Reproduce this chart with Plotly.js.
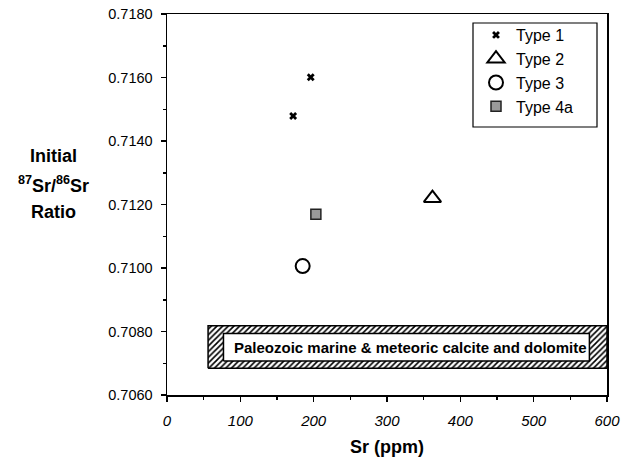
<!DOCTYPE html>
<html>
<head>
<meta charset="utf-8">
<script src="https://cdn.plot.ly/plotly-3.0.1.min.js"></script>
<style>html,body{margin:0;padding:0;background:#fff;}#chart{width:622px;height:457px;}</style>
</head>
<body>
<div id="chart"></div>
<script>
// Data
const type1Sr = [196, 172];
const type1Ratio = [0.71601, 0.71479];
const type2Sr = [362];
const type2Ratio = [0.71220];
const type3Sr = [185];
const type3Ratio = [0.71006];
const type4aSr = [203];
const type4aRatio = [0.71169];

// Field of Paleozoic marine & meteoric calcite and dolomite
const fieldSr = [56, 600];
const fieldRatio = [0.70684, 0.70818];
const labelSr = [77, 576];
const labelRatio = [0.70707, 0.70794];
const fieldLabel = 'Paleozoic marine &amp; meteoric calcite and dolomite';

const xTicks = [0, 100, 200, 300, 400, 500, 600];
const yTicks = [0.706, 0.708, 0.710, 0.712, 0.714, 0.716, 0.718];
const yTitleLines = ['Initial', '<sup>87</sup>Sr/<sup>86</sup>Sr', 'Ratio'];

const FONT = 'Liberation Sans, Arial, Helvetica, sans-serif';

function rectX(a){ return [a[0], a[1], a[1], a[0], a[0]]; }
function rectY(a){ return [a[0], a[0], a[1], a[1], a[0]]; }

const traces = [
  {
    x: rectX(fieldSr), y: rectY(fieldRatio), mode: 'lines', fill: 'toself',
    line: {color: 'black', width: 1.5},
    fillpattern: {shape: '/', fgcolor: 'black', bgcolor: 'white', size: 4, solidity: 0.4},
    showlegend: false, hoverinfo: 'skip'
  },
  {
    x: rectX(labelSr), y: rectY(labelRatio), mode: 'lines', fill: 'toself',
    fillcolor: 'white', line: {color: 'black', width: 1.5},
    showlegend: false, hoverinfo: 'skip'
  },
  {
    x: type1Sr, y: type1Ratio, mode: 'markers', name: 'Type 1', legendgroup: 'a',
    marker: {symbol: 'x', size: 7, color: 'black', line: {width: 0}}
  },
  {
    x: type2Sr, y: type2Ratio, mode: 'markers', name: 'Type 2', legendgroup: 'b',
    marker: {symbol: 'triangle-up-open', size: 15, color: 'black', line: {width: 2, color: 'black'}}
  },
  {
    x: type3Sr, y: type3Ratio, mode: 'markers', name: 'Type 3', legendgroup: 'c',
    marker: {symbol: 'circle-open', size: 14, color: 'black', line: {width: 2, color: 'black'}}
  },
  {
    x: type4aSr, y: type4aRatio, mode: 'markers', name: 'Type 4a', legendgroup: 'd',
    marker: {symbol: 'square', size: 10, color: '#9a9a9a', line: {width: 1.5, color: '#222'}}
  }
];

const pw = 622 - 167 - 15, ph = 457 - 14 - 62;
function px2paperX(px){ return (px - 167) / pw; }
function px2paperY(py){ return 1 - (py - 14) / ph; }

const annotations = [
  {
    x: (labelSr[0] + labelSr[1]) / 2 + 6, y: (labelRatio[0] + labelRatio[1]) / 2,
    xref: 'x', yref: 'y', text: '<b>' + fieldLabel + '</b>', showarrow: false,
    font: {size: 15, family: FONT, color: 'black'}
  }
];
const yTitleY = [156, 184, 212];
yTitleLines.forEach(function(t, i){
  annotations.push({
    x: px2paperX(53), y: px2paperY(yTitleY[i]), xref: 'paper', yref: 'paper',
    xanchor: 'center', yanchor: 'middle', showarrow: false,
    text: '<b>' + t + '</b>', font: {size: 18, family: FONT, color: 'black'}
  });
});

// legend frame (pixel box of the reference legend)
const legendBox = {x0: 473, x1: 597, y0: 23, y1: 127};

const layout = {
  width: 622, height: 457,
  margin: {l: 167, r: 15, t: 14, b: 62},
  paper_bgcolor: 'white', plot_bgcolor: 'white',
  font: {family: FONT, color: 'black'},
  showlegend: true,
  legend: {
    x: px2paperX(476), y: px2paperY(18), xanchor: 'left', yanchor: 'top',
    borderwidth: 0, bgcolor: 'rgba(0,0,0,0)',
    font: {size: 16, family: FONT, color: 'black'},
    traceorder: 'grouped', tracegroupgap: 0
  },
  shapes: [
    {
      type: 'rect', xref: 'paper', yref: 'paper', layer: 'below',
      x0: px2paperX(legendBox.x0), x1: px2paperX(legendBox.x1),
      y0: px2paperY(legendBox.y1), y1: px2paperY(legendBox.y0),
      line: {color: 'black', width: 1.2}, fillcolor: 'white'
    }
  ],
  xaxis: {
    range: [0, 600], tickvals: xTicks, ticktext: xTicks.map(String),
    showgrid: false, zeroline: false,
    showline: true, linecolor: 'black', linewidth: 1.5, mirror: true,
    ticks: 'outside', ticklen: 5, tickwidth: 1.5, tickcolor: 'black',
    minor: {dtick: 50, ticks: 'outside', ticklen: 3, tickwidth: 1.5, tickcolor: 'black'},
    tickfont: {size: 15, family: FONT, style: 'italic'},
    ticklabelstandoff: 6,
    title: {text: '<b>Sr (ppm)</b>', font: {size: 18, family: FONT}, standoff: 14}
  },
  yaxis: {
    range: [0.706, 0.718], tickvals: yTicks, ticktext: yTicks.map(v => v.toFixed(4)),
    showgrid: false, zeroline: false,
    showline: true, linecolor: 'black', linewidth: 1.5, mirror: true,
    ticks: 'outside', ticklen: 5, tickwidth: 1.5, tickcolor: 'black',
    minor: {dtick: 0.001, ticks: 'outside', ticklen: 3, tickwidth: 1.5, tickcolor: 'black'},
    tickfont: {size: 14.5, family: FONT},
    ticklabelstandoff: 5
  },
  annotations: annotations
};

Plotly.newPlot('chart', traces, layout, {displayModeBar: false, staticPlot: true});
</script>
</body>
</html>
